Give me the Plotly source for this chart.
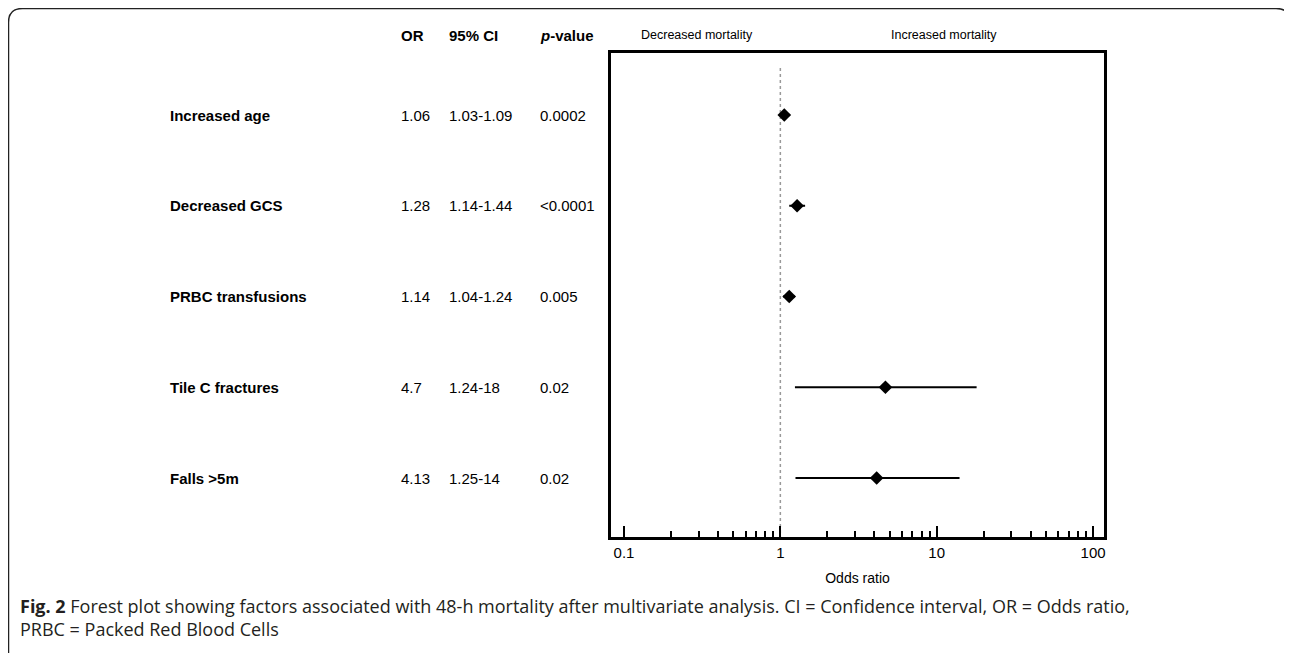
import plotly.graph_objects as go

# ---- data ----
factors = ["Increased age", "Decreased GCS", "PRBC transfusions", "Tile C fractures", "Falls >5m"]
odds_ratio = [1.06, 1.28, 1.14, 4.7, 4.13]
ci_low = [1.03, 1.14, 1.04, 1.24, 1.25]
ci_high = [1.09, 1.44, 1.24, 18, 14]
p_values = ["0.0002", "<0.0001", "0.005", "0.02", "0.02"]
tick_values = [0.1, 1, 10, 100]
tick_labels = ["0.1", "1", "10", "100"]
minor_ticks = [m * d for d in (0.1, 1, 10) for m in range(2, 10)]

OFF = 8  # page body margin
W, H = 1292 - OFF, 653 - OFF
# plot area in screen pixels
L, R, T, B = 611, 1104, 53, 537
row0 = 115
row_gap = 90.75
rows = list(range(len(factors)))
y_range = [(B - row0) / row_gap, -(row0 - T) / row_gap]


def px(x):
    return (x - L) / (R - L)


def py(y):
    return (B - y) / (B - T)


fig = go.Figure()

fig.add_trace(go.Scatter(
    x=odds_ratio, y=rows, mode="markers",
    marker=dict(symbol="diamond", size=10.5, color="black"),
    error_x=dict(type="data", symmetric=False,
                 array=[h - o for h, o in zip(ci_high, odds_ratio)],
                 arrayminus=[o - l for o, l in zip(odds_ratio, ci_low)],
                 thickness=2, width=0, color="black"),
    showlegend=False, hoverinfo="skip",
))

# reference line at OR = 1
fig.add_shape(type="line", xref="x", yref="y", x0=1, x1=1,
              y0=-(row0 - 68) / row_gap, y1=y_range[0],
              line=dict(color="#999999", width=1.5, dash="dot"), layer="below")

# outer rounded box
r = 14
x0, x1, y0, y1 = 8.5, 1290, 8.5, 700
path = (f"M {px(x0)},{py(y1)} L {px(x0)},{py(y0 + r)} "
        f"Q {px(x0)},{py(y0)} {px(x0 + r)},{py(y0)} "
        f"L {px(x1 - r)},{py(y0)} Q {px(x1)},{py(y0)} {px(x1)},{py(y0 + r)} "
        f"L {px(x1)},{py(y1)}")
fig.add_shape(type="path", xref="paper", yref="paper", path=path,
              line=dict(color="#222222", width=1.5))

lab_font = dict(family="Liberation Sans, Arial, sans-serif", size=15, color="black")
header_y = 35

# headers
fig.add_annotation(x=px(399), y=py(header_y), xref="paper", yref="paper", text="<b>OR</b>",
                   showarrow=False, xanchor="left", yanchor="middle", font=lab_font)
fig.add_annotation(x=px(447), y=py(header_y), xref="paper", yref="paper", text="<b>95% CI</b>",
                   showarrow=False, xanchor="left", yanchor="middle", font=lab_font)
fig.add_annotation(x=px(538), y=py(header_y), xref="paper", yref="paper", text="<b><i>p</i>-value</b>",
                   showarrow=False, xanchor="left", yanchor="middle", font=lab_font)
small_font = dict(family="Liberation Sans, Arial, sans-serif", size=12.5, color="black")
fig.add_annotation(x=px(697), y=py(header_y), xref="paper", yref="paper", text="Decreased mortality",
                   showarrow=False, xanchor="center", yanchor="middle", font=small_font)
fig.add_annotation(x=px(944), y=py(header_y), xref="paper", yref="paper", text="Increased mortality",
                   showarrow=False, xanchor="center", yanchor="middle", font=small_font)

for i, name in enumerate(factors):
    fig.add_annotation(x=px(168), y=i, xref="paper", yref="y", text=f"<b>{name}</b>",
                       showarrow=False, xanchor="left", yanchor="middle", font=lab_font)
    fig.add_annotation(x=px(399), y=i, xref="paper", yref="y", text=f"{odds_ratio[i]:g}",
                       showarrow=False, xanchor="left", yanchor="middle", font=lab_font)
    fig.add_annotation(x=px(447), y=i, xref="paper", yref="y", text=f"{ci_low[i]:g}-{ci_high[i]:g}",
                       showarrow=False, xanchor="left", yanchor="middle", font=lab_font)
    fig.add_annotation(x=px(538), y=i, xref="paper", yref="y", text=p_values[i],
                       showarrow=False, xanchor="left", yanchor="middle", font=lab_font)

# caption
fig.add_annotation(
    x=px(18), y=py(617), xref="paper", yref="paper", xanchor="left", yanchor="middle",
    align="left", showarrow=False,
    text=("<b>Fig. 2</b> Forest plot showing factors associated with 48-h mortality after multivariate "
          "analysis. CI = Confidence interval, OR = Odds ratio,<br>PRBC = Packed Red Blood Cells"),
    font=dict(family="Open Sans, sans-serif", size=18, color="#231f20"),
)

fig.update_layout(
    width=W, height=H,
    margin=dict(l=L - OFF, r=W - (R - OFF), t=T - OFF, b=H - (B - OFF), pad=0),
    paper_bgcolor="white", plot_bgcolor="white",
    xaxis=dict(type="log", range=[-1.083, 2.07], tickvals=tick_values, ticktext=tick_labels,
               ticks="inside", ticklen=11, tickwidth=2, tickcolor="black",
               showline=True, linewidth=3, linecolor="black", mirror=True,
               showgrid=False, zeroline=False, ticklabelstandoff=0,
               minor=dict(tickvals=minor_ticks, ticks="inside", ticklen=6, tickwidth=1.5,
                          tickcolor="black", showgrid=False),
               tickfont=dict(family="Liberation Sans, Arial, sans-serif", size=15, color="black"),
               title=dict(text="Odds ratio", standoff=14,
                          font=dict(family="Liberation Sans, Arial, sans-serif", size=14, color="black"))),
    yaxis=dict(range=y_range, showticklabels=False, ticks="", showgrid=False, zeroline=False,
               showline=True, linewidth=3, linecolor="black", mirror=True),
)

fig.write_html("out.html")
